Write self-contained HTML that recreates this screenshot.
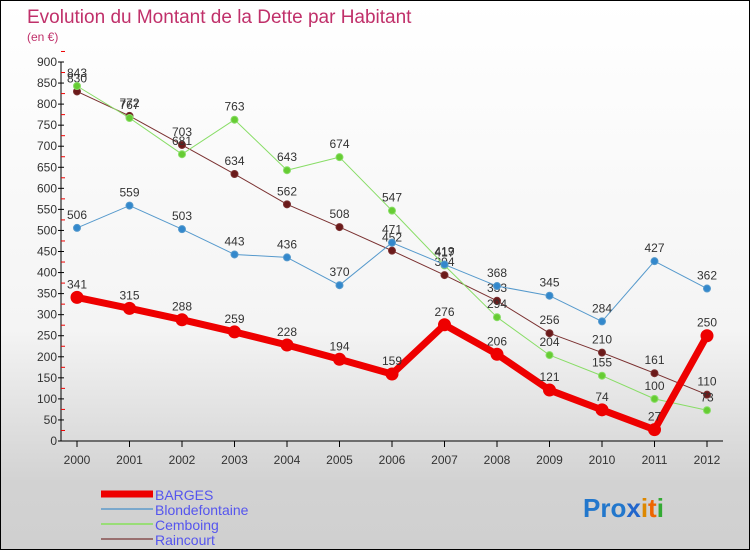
<!DOCTYPE html>
<html><head><meta charset="utf-8"><style>
body{margin:0}
#c{width:750px;height:550px;position:relative;overflow:hidden;background:linear-gradient(#ffffff 0%,#f4f4f4 60%,#d2d2d2 88%,#d0d0d0 100%);font-family:"Liberation Sans",sans-serif;box-sizing:border-box;border:1px solid #000}
</style></head><body>
<div id="c">
<svg id="s" width="750" height="550" style="position:absolute;left:0;top:0"></svg>
</div>
<script>
const years=["2000","2001","2002","2003","2004","2005","2006","2007","2008","2009","2010","2011","2012"];
const barges=[341,315,288,259,228,194,159,276,206,121,74,27,250];
const blondefontaine=[506,559,503,443,436,370,471,419,368,345,284,427,362];
const cemboing=[843,767,681,763,643,674,547,417,294,204,155,100,73];
const raincourt=[830,772,703,634,562,508,452,394,333,256,210,161,110];
const yTicks=[0,50,100,150,200,250,300,350,400,450,500,550,600,650,700,750,800,850,900];
const NS="http://www.w3.org/2000/svg";
const svg=document.getElementById('s');
const x=i=>76+i*52.5;
const y=v=>440-v*(379/900);
function el(t,a,p){const e=document.createElementNS(NS,t);for(const k in a)e.setAttribute(k,a[k]);(p||svg).appendChild(e);return e;}
function tx(str,a){const e=el('text',a);e.textContent=str;return e;}
let t=tx("Evolution du Montant de la Dette par Habitant",{x:26,y:22,'font-size':19,fill:'#c0306a'});

t=tx("(en €)",{x:26,y:40,'font-size':12,fill:'#c0306a'});

let ax=el('line',{x1:60,y1:61,x2:60,y2:440,stroke:'#000'});

ax=el('line',{x1:60,y1:440,x2:722,y2:440,stroke:'#000'});

yTicks.forEach(v=>{
  const l=el('line',{x1:57,y1:y(v),x2:63,y2:y(v),stroke:'#000'});
  
  const r=el('line',{x1:60,y1:y(v+25),x2:64,y2:y(v+25),stroke:'#e00'});
  
  const s=tx(String(v),{x:56,y:y(v)+4,'font-size':12,fill:'#333','text-anchor':'end'});
  
});
years.forEach((yr,i)=>{
  const l=el('line',{x1:x(i),y1:440,x2:x(i),y2:446,stroke:'#000'});
  
  const s=tx(yr,{x:x(i),y:463,'font-size':12,fill:'#333','text-anchor':'middle'});
  
});
function series(data,color,dot,w,r,name){
  const g=el('g',{});
  
  const p=el('polyline',{points:data.map((v,i)=>x(i)+','+y(v)).join(' '),fill:'none',stroke:color,'stroke-width':w,'stroke-linejoin':'round'},g);
  
  data.forEach((v,i)=>{
    const c=el('circle',{cx:x(i),cy:y(v),r:r,fill:dot,stroke:color,'stroke-width':1},g);
    
    const s=tx(String(v),{x:x(i),y:y(v)-9,'font-size':12,fill:'#333','text-anchor':'middle'});
    
  });
}
series(raincourt,'#7a3030','#6b1a1a',1,3.5,'raincourt');
series(cemboing,'#88dd66','#66cc33',1,3.5,'cemboing');
series(blondefontaine,'#5599cc','#3388cc',1,3.5,'blondefontaine');
series(barges,'#ee0000','#ee0000',7,6,'barges');
const leg=[["BARGES","#ee0000",7],["Blondefontaine","#7aa8cc",2],["Cemboing","#99dd77",2],["Raincourt","#997070",2]];
leg.forEach((L,i)=>{
  const yy=493+i*15;
  const l=el('line',{x1:100,y1:yy,x2:152,y2:yy,stroke:L[1],'stroke-width':L[2]});
  
  const s=tx(L[0],{x:154,y:yy+6,'font-size':14,fill:'#5555ee'});
  
});
const lg=el('text',{x:582,y:516,'font-size':26,'font-weight':'bold','font-family':'Liberation Sans,sans-serif'});

[["Pro","#2277cc"],["x","#2266cc"],["i","#dd8800"],["t","#ee6600"],["i","#33aa33"]].forEach(p=>{const ts=el('tspan',{fill:p[1]},lg);ts.textContent=p[0];});
</script>
</body></html>
